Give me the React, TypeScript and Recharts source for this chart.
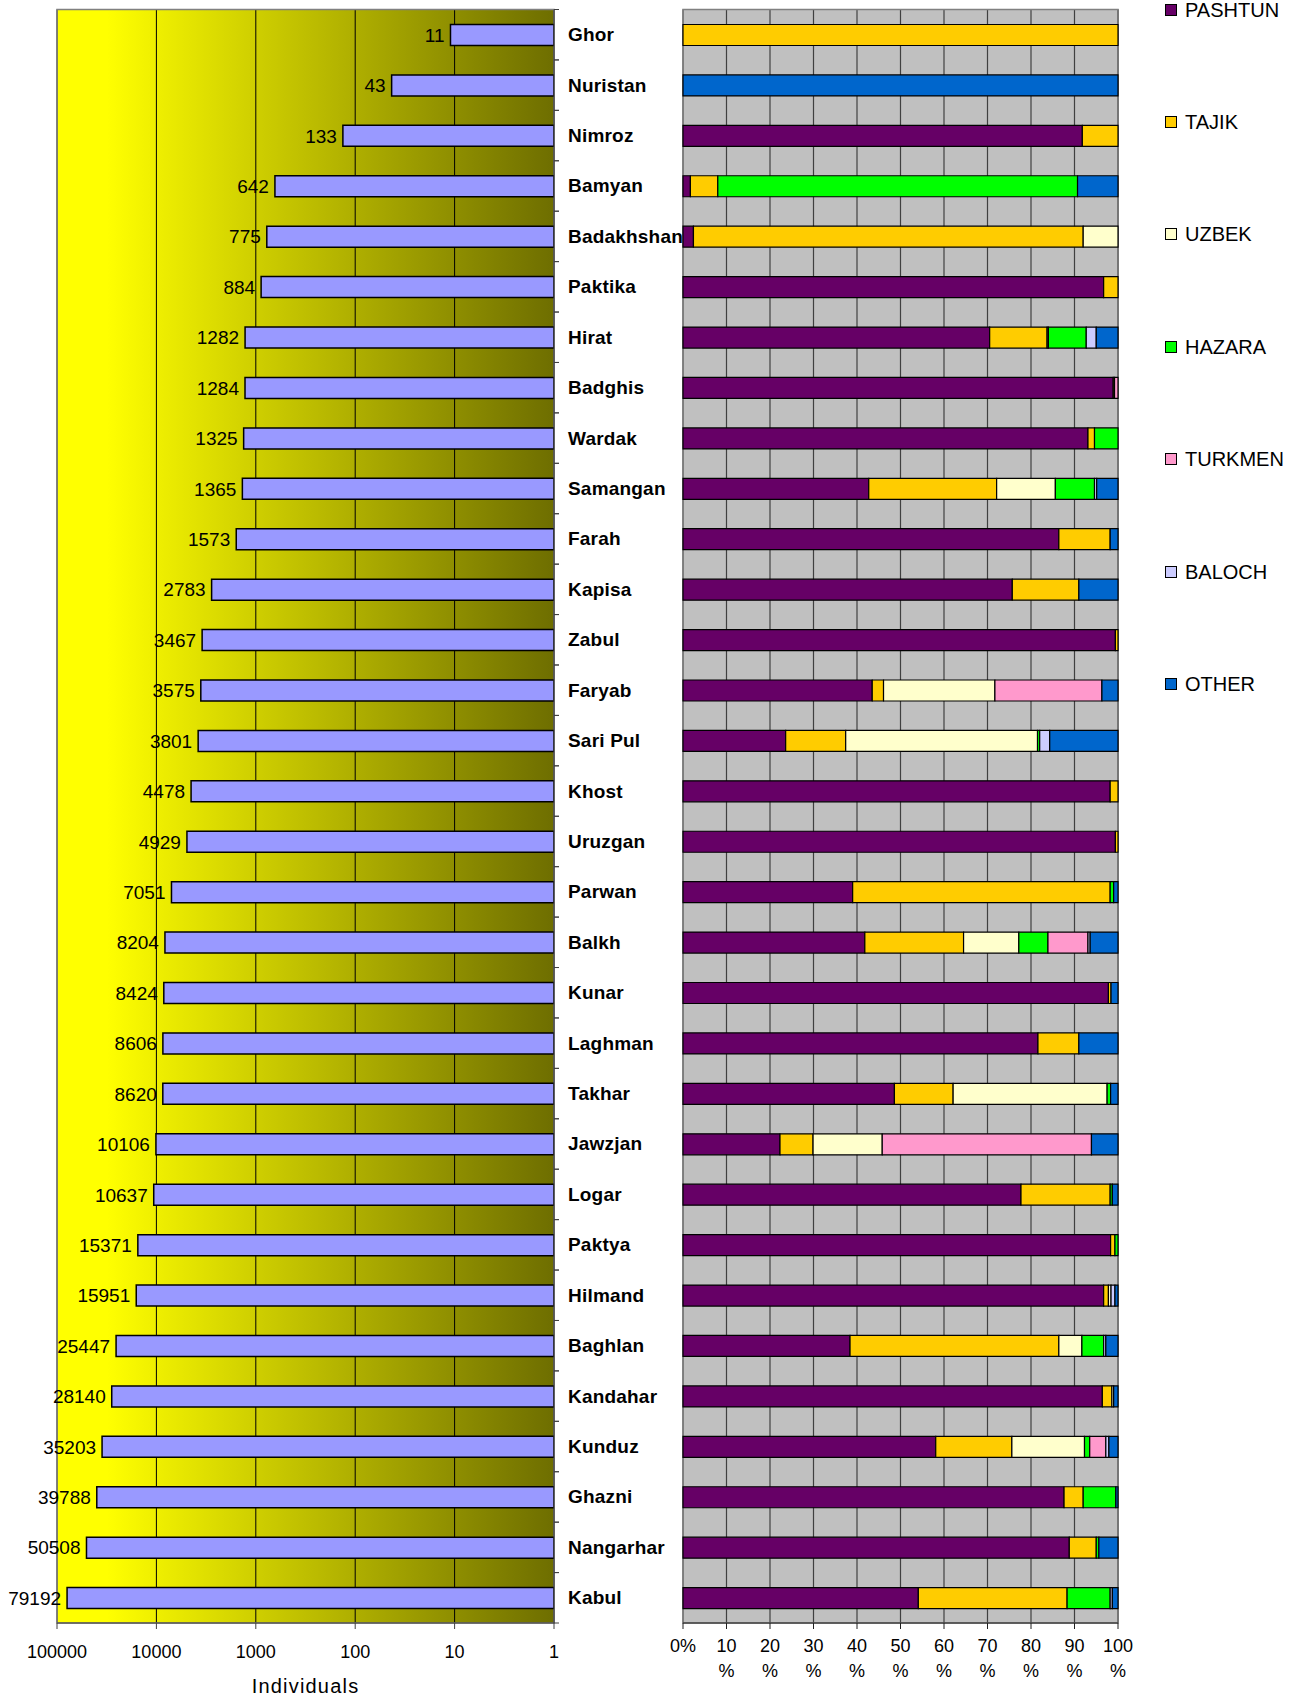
import React from 'react';
import { BarChart, Bar, XAxis, YAxis, CartesianGrid, ReferenceArea, LabelList } from 'recharts';

const FONT = '"Liberation Sans", Arial, sans-serif';

const PROVINCES = ['Ghor', 'Nuristan', 'Nimroz', 'Bamyan', 'Badakhshan', 'Paktika', 'Hirat', 'Badghis', 'Wardak', 'Samangan', 'Farah', 'Kapisa', 'Zabul', 'Faryab', 'Sari Pul', 'Khost', 'Uruzgan', 'Parwan', 'Balkh', 'Kunar', 'Laghman', 'Takhar', 'Jawzjan', 'Logar', 'Paktya', 'Hilmand', 'Baghlan', 'Kandahar', 'Kunduz', 'Ghazni', 'Nangarhar', 'Kabul'];

const INDIVIDUALS = [11, 43, 133, 642, 775, 884, 1282, 1284, 1325, 1365, 1573, 2783, 3467, 3575, 3801, 4478, 4929, 7051, 8204, 8424, 8606, 8620, 10106, 10637, 15371, 15951, 25447, 28140, 35203, 39788, 50508, 79192];

const PASHTUN = [0, 0, 91.8, 1.7, 2.4, 96.7, 70.5, 98.9, 93.1, 42.7, 86.4, 75.7, 99.4, 43.5, 23.6, 98.2, 99.4, 39.0, 41.8, 97.8, 81.6, 48.6, 22.3, 77.7, 98.3, 96.7, 38.4, 96.4, 58.1, 87.6, 88.8, 54.1];
const TAJIK = [100, 0, 8.2, 6.3, 89.6, 3.3, 13.2, 0.3, 1.5, 29.4, 11.8, 15.3, 0.6, 2.6, 13.8, 1.8, 0.6, 59.2, 22.7, 0.6, 9.4, 13.5, 7.6, 20.5, 1.0, 1.1, 48.0, 2.2, 17.5, 4.4, 6.2, 34.2];
const UZBEK = [0, 0, 0, 0, 8.0, 0, 0.3, 0, 0, 13.5, 0, 0, 0, 25.6, 44.1, 0, 0, 0, 12.7, 0, 0, 35.4, 15.9, 0, 0, 0.6, 5.3, 0.4, 16.7, 0, 0, 0];
const HAZARA = [0, 0, 0, 82.7, 0, 0, 8.7, 0, 5.4, 9.0, 0, 0, 0, 0, 0.5, 0, 0, 0.8, 6.7, 0, 0, 0.8, 0, 0.5, 0.7, 0, 5.0, 0, 1.2, 7.5, 0.6, 9.9];
const TURKMEN = [0, 0, 0, 0, 0, 0, 0, 0.8, 0, 0, 0, 0, 0, 24.6, 0, 0, 0, 0, 9.2, 0, 0, 0, 48.1, 0, 0, 0, 0, 0, 3.7, 0, 0, 0];
const BALOCH = [0, 0, 0, 0, 0, 0, 2.3, 0, 0, 0.5, 0, 0, 0, 0, 2.3, 0, 0, 0, 0.5, 0, 0, 0, 0, 0, 0, 0.9, 0.5, 0, 0.7, 0, 0, 0.5];
const OTHER = [0, 100, 0, 9.3, 0, 0, 5.0, 0, 0, 4.9, 1.8, 9.0, 0, 3.7, 15.7, 0, 0, 1.0, 6.4, 1.6, 9.0, 1.7, 6.1, 1.3, 0, 0.7, 2.8, 1.0, 2.1, 0.5, 4.4, 1.3];

const SERIES = ['PASHTUN', 'TAJIK', 'UZBEK', 'HAZARA', 'TURKMEN', 'BALOCH', 'OTHER'];
const SERIES_VALUES = [PASHTUN, TAJIK, UZBEK, HAZARA, TURKMEN, BALOCH, OTHER];
const COLORS = ['#660066', '#FFCC00', '#FFFFCC', '#00FF00', '#FF99CC', '#CCCCFF', '#0066CC'];

const LOG_TICKS = [100000, 10000, 1000, 100, 10, 1];
const PCT_TICKS = [0, 10, 20, 30, 40, 50, 60, 70, 80, 90, 100];

const data = PROVINCES.map((name, i) => {
  const row: any = { name, individuals: INDIVIDUALS[i] };
  SERIES.forEach((s, k) => { row[s] = SERIES_VALUES[k][i]; });
  return row;
});

function ValueLabel(props: any) {
  const vb = props.viewBox && props.viewBox.width !== undefined ? props.viewBox : props;
  const x = Number(vb.x), w = Number(vb.width), y = Number(vb.y), h = Number(vb.height);
  const left = Math.min(x, x + w);
  return (
    <text x={left - 6} y={y + h / 2 + 6.8} textAnchor="end" fontSize={19} fill="#000" fontFamily={FONT}>
      {props.value}
    </text>
  );
}

function ProvinceTick(props: any) {
  const { x, y, payload } = props;
  const half = payload && payload.offset ? payload.offset : 25.2;
  return (
    <g>
      <line x1={x - 14} x2={x - 9} y1={y - half} y2={y - half} stroke="#404040" strokeWidth={1} />
      <line x1={x - 14} x2={x - 9} y1={y + half} y2={y + half} stroke="#404040" strokeWidth={1} />
      <text x={x} y={y + 6.5} textAnchor="start" fontSize={19} fontWeight="bold" fill="#000" fontFamily={FONT} letterSpacing={0.2}>
        {payload.value}
      </text>
    </g>
  );
}

function LogTick(props: any) {
  const { x, y, payload } = props;
  return (
    <text x={x} y={y + 27} textAnchor="middle" fontSize={18} fill="#000" fontFamily={FONT}>
      {String(payload.value)}
    </text>
  );
}

function PctTick(props: any) {
  const { x, y, payload } = props;
  if (payload.value === 0) {
    return (
      <text x={x} y={y + 20.5} textAnchor="middle" fontSize={18} fill="#000" fontFamily={FONT}>0%</text>
    );
  }
  return (
    <g>
      <text x={x} y={y + 20.5} textAnchor="middle" fontSize={18} fill="#000" fontFamily={FONT}>{String(payload.value)}</text>
      <text x={x} y={y + 46} textAnchor="middle" fontSize={18} fill="#000" fontFamily={FONT}>%</text>
    </g>
  );
}

function LegendBox() {
  return (
    <div style={{ position: 'absolute', left: 1165, top: 0, width: 130 }}>
      {SERIES.map((s, i) => (
        <div key={s} style={{ position: 'absolute', left: 0, top: 9.5 + i * 112.4 - 12, height: 24, display: 'flex', alignItems: 'center', whiteSpace: 'nowrap' }}>
          <div style={{ width: 10, height: 10, background: COLORS[i], border: '1px solid #000', marginRight: 8 }} />
          <span style={{ fontFamily: FONT, fontSize: 20, color: '#000', lineHeight: '24px' }}>{s}</span>
        </div>
      ))}
    </div>
  );
}

export default function App() {
  return (
    <div style={{ position: 'absolute', left: 0, top: 0, width: 1295, height: 1696, background: '#fff', overflow: 'hidden' }}>
      <div style={{ position: 'absolute', left: 0, top: 0 }}>
        <BarChart width={700} height={1696} data={data} layout="vertical" margin={{ top: 9.5, right: 16, bottom: 0, left: 57 }} barSize={21}>
          <defs>
            <linearGradient id="leftBg" x1="0" y1="0" x2="1" y2="0">
              <stop offset="0" stopColor="#FFFF00" />
              <stop offset="0.1" stopColor="#FFFF00" />
              <stop offset="1" stopColor="#6E6E00" />
            </linearGradient>
          </defs>
          <CartesianGrid horizontal={false} vertical stroke="#000" strokeWidth={1} fill="url(#leftBg)" fillOpacity={1} />
          <XAxis
            type="number"
            scale="log"
            domain={[1, 100000]}
            reversed
            ticks={LOG_TICKS}
            interval={0}
            allowDataOverflow
            height={73}
            tickSize={6}
            tickMargin={2}
            stroke="#404040"
            tick={<LogTick />}
            label={{ value: 'Individuals', position: 'insideBottom', offset: 3, fontSize: 20, fill: '#000', fontFamily: FONT, letterSpacing: 1.2 }}
          />
          <YAxis
            type="category"
            dataKey="name"
            orientation="right"
            width={130}
            tickSize={5}
            tickMargin={9}
            tickLine={false}
            stroke="#404040"
            interval={0}
            tick={<ProvinceTick />}
          />
          <ReferenceArea x1={100000} x2={1} fill="none" stroke="#808080" strokeWidth={1.5} ifOverflow="visible" />
          <Bar dataKey="individuals" fill="#9999FF" stroke="#000" strokeWidth={1.5} isAnimationActive={false}>
            <LabelList dataKey="individuals" content={<ValueLabel />} />
          </Bar>
        </BarChart>
      </div>
      <div style={{ position: 'absolute', left: 600, top: 0 }}>
        <BarChart width={560} height={1696} data={data} layout="vertical" margin={{ top: 9.5, right: 42, bottom: 0, left: 83 }} barSize={21}>
          <CartesianGrid horizontal={false} vertical stroke="#404040" strokeWidth={1.2} fill="#C0C0C0" fillOpacity={1} />
          <XAxis
            type="number"
            domain={[0, 100]}
            ticks={PCT_TICKS}
            interval={0}
            height={73}
            tickSize={6}
            tickMargin={2}
            stroke="#202020"
            tick={<PctTick />}
          />
          <YAxis type="category" dataKey="name" hide width={0} />
          <ReferenceArea x1={0} x2={100} fill="none" stroke="#808080" strokeWidth={1.5} ifOverflow="visible" />
          {SERIES.map((s, i) => (
            <Bar key={s} dataKey={s} stackId="eth" fill={COLORS[i]} stroke="#000" strokeWidth={1.2} isAnimationActive={false} />
          ))}
        </BarChart>
      </div>
      <LegendBox />
    </div>
  );
}
